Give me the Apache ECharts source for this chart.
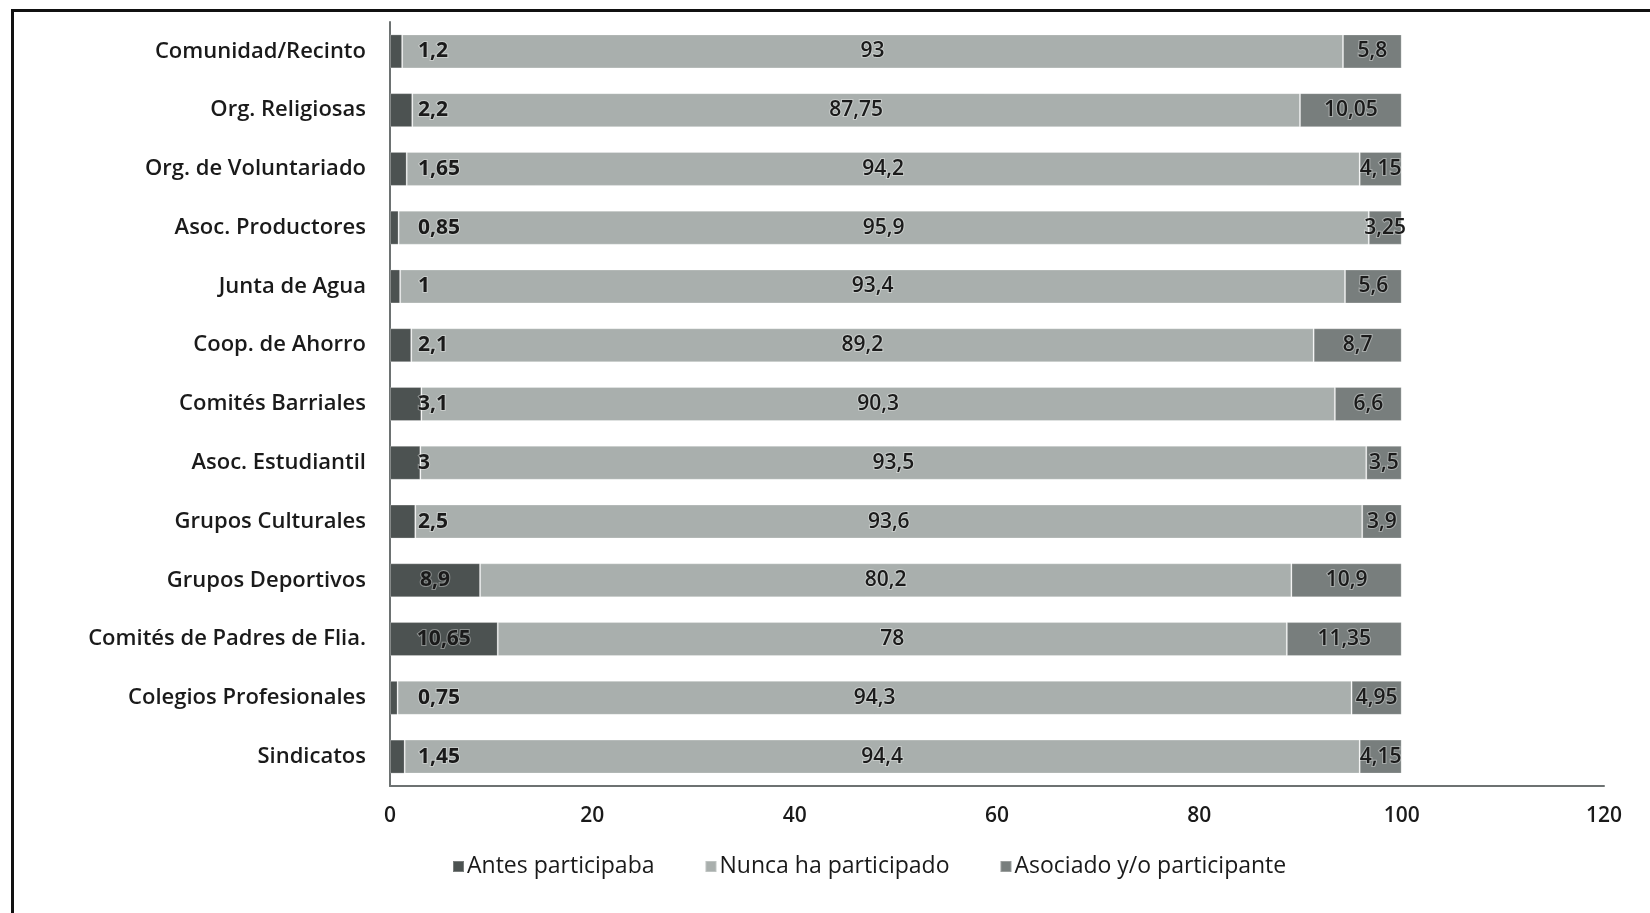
<!DOCTYPE html>
<html>
<head>
<meta charset="utf-8">
<script src="https://cdn.jsdelivr.net/npm/echarts@6/dist/echarts.min.js"></script>
<style>
html, body { margin:0; padding:0; background:#fff; }
#chart { position:absolute; left:0; top:0; width:1650px; height:913px; }
.frame { position:absolute; left:11px; top:9px; width:1639px; height:904px; border-left:3px solid #111; border-top:3px solid #111; pointer-events:none; }
</style>
</head>
<body>
<div id="chart"></div>
<div class="frame"></div>
<script>
// categorias, de arriba hacia abajo
var categories = ['Comunidad/Recinto', 'Org. Religiosas', 'Org. de Voluntariado', 'Asoc. Productores', 'Junta de Agua', 'Coop. de Ahorro', 'Comités Barriales', 'Asoc. Estudiantil', 'Grupos Culturales', 'Grupos Deportivos', 'Comités de Padres de Flia.', 'Colegios Profesionales', 'Sindicatos'];
var antes = [1.2, 2.2, 1.65, 0.85, 1, 2.1, 3.1, 3, 2.5, 8.9, 10.65, 0.75, 1.45];
var nunca = [93, 87.75, 94.2, 95.9, 93.4, 89.2, 90.3, 93.5, 93.6, 80.2, 78, 94.3, 94.4];
var asociado = [5.8, 10.05, 4.15, 3.25, 5.6, 8.7, 6.6, 3.5, 3.9, 10.9, 11.35, 4.95, 4.15];
var seriesNames = ['Antes participaba', 'Nunca ha participado', 'Asociado y/o participante'];
var xTicks = [0, 20, 40, 60, 80, 100, 120];

var font = 'Open Sans';
var fmt = function (p) { return String(p.value).replace('.', ','); };
var labelBase = {
    show: true,
    fontFamily: font,
    fontSize: 21,
    color: '#1a1a1a',
    textBorderColor: 'rgba(255,255,255,0.35)',
    textBorderWidth: 2,
    formatter: fmt
};

// los valores chicos de la primera serie van corridos a la derecha
var antesData = antes.map(function (v) {
    return v >= 5 ? { value: v, label: { position: 'inside' } }
                  : { value: v, label: { position: 'insideLeft', distance: 28 } };
});

var chart = echarts.init(document.getElementById('chart'));
chart.setOption({
    animation: false,
    color: ['#4c5251', '#a9afad', '#787e7d'],
    grid: { left: 390, right: 46, top: 22, bottom: 127 },
    legend: {
        data: seriesNames,
        bottom: 30,
        left: 447,
        itemWidth: 11,
        itemHeight: 11,
        itemGap: 50,
        icon: 'rect',
        textStyle: { fontFamily: font, fontSize: 23, fontWeight: 500, color: '#1a1a1a', padding: [0, 0, 0, -2] }
    },
    xAxis: {
        type: 'value',
        min: 0,
        max: 120,
        interval: 20,
        splitLine: { show: false },
        axisLine: { show: true, lineStyle: { color: '#6d7272', width: 2 } },
        axisTick: { show: false },
        axisLabel: {
            fontFamily: font, fontSize: 21, fontWeight: 600, color: '#1a1a1a', margin: 20,
            formatter: function (v) { return xTicks.indexOf(v) >= 0 ? String(v) : ''; }
        }
    },
    yAxis: {
        type: 'category',
        data: categories,
        inverse: true,
        axisLine: { show: true, lineStyle: { color: '#6d7272', width: 2 } },
        axisTick: { show: false },
        axisLabel: { fontFamily: font, fontSize: 22, fontWeight: 600, color: '#1a1a1a', margin: 24 }
    },
    series: [
        {
            name: seriesNames[0], type: 'bar', stack: 'total', barWidth: 34,
            itemStyle: { borderColor: 'rgba(255,255,255,0.25)', borderWidth: 1 },
            label: Object.assign({}, labelBase, { fontWeight: 'bold' }),
            data: antesData
        },
        {
            name: seriesNames[1], type: 'bar', stack: 'total', barWidth: 34,
            itemStyle: { borderColor: 'rgba(255,255,255,0.25)', borderWidth: 1 },
            label: Object.assign({}, labelBase, { position: 'inside', fontWeight: 600 }),
            data: nunca
        },
        {
            name: seriesNames[2], type: 'bar', stack: 'total', barWidth: 34,
            itemStyle: { borderColor: 'rgba(255,255,255,0.25)', borderWidth: 1 },
            label: Object.assign({}, labelBase, { position: 'inside', fontWeight: 600 }),
            data: asociado
        }
    ]
});
</script>
</body>
</html>
